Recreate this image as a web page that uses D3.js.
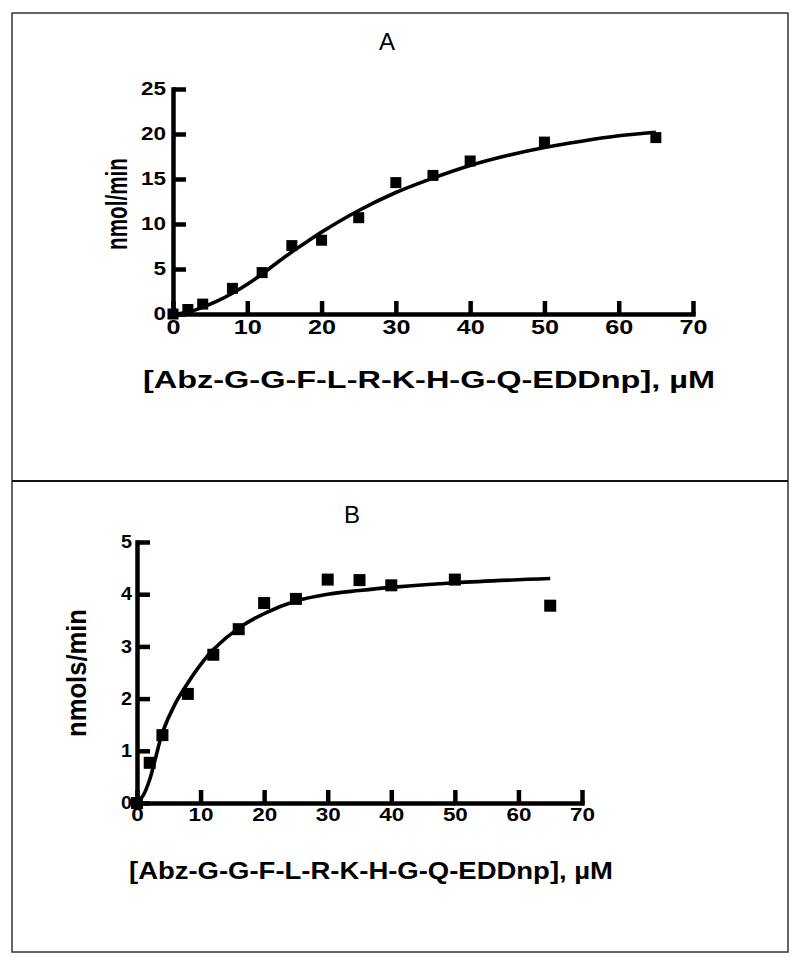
<!DOCTYPE html>
<html>
<head>
<meta charset="utf-8">
<script src="https://cdn.jsdelivr.net/npm/d3@7"></script>
<style>
    body { margin: 0; background: #fff; }
</style>
</head>
<body>
<div id="chart"></div>
<script>
// measured points, panel A
var concA = [0, 2, 4, 8, 12, 16, 20, 25, 30, 35, 40, 50, 65];
var rateA = [0, 0.5, 1.1, 2.85, 4.6, 7.6, 8.2, 10.7, 14.6, 15.4, 17.0, 19.1, 19.6];
// fitted curve, panel A
var fitConcA = [0, 2, 4, 6, 8, 10, 12, 14, 16, 18, 20, 25, 30, 35, 40, 45, 50, 55, 60, 65];
var fitRateA = [0, 0.2, 0.75, 1.45, 2.3, 3.3, 4.45, 5.7, 6.9, 8.0, 9.1, 11.5, 13.5, 15.1, 16.5, 17.6, 18.5, 19.2, 19.8, 20.2];

// measured points, panel B
var concB = [0, 2, 4, 8, 12, 16, 20, 25, 30, 35, 40, 50, 65];
var rateB = [0, 0.77, 1.3, 2.09, 2.84, 3.33, 3.83, 3.91, 4.28, 4.27, 4.17, 4.28, 3.78];
// fitted curve, panel B
var fitConcB = [0, 1, 2, 3, 4, 6, 8, 10, 12, 16, 20, 25, 30, 35, 40, 50, 65];
var fitRateB = [0, 0.15, 0.45, 0.9, 1.35, 1.9, 2.3, 2.65, 2.94, 3.35, 3.63, 3.87, 4.0, 4.07, 4.13, 4.22, 4.3];

var xTicks = [0, 10, 20, 30, 40, 50, 60, 70];
var yTicksA = [0, 5, 10, 15, 20, 25];
var yTicksB = [0, 1, 2, 3, 4, 5];

var xLabel = "[Abz-G-G-F-L-R-K-H-G-Q-EDDnp], \u00b5M";

function drawPanel(svg, p) {

    var xScale = d3.scaleLinear()
                   .domain([0, 70])
                   .range([p.left, p.right]);

    var yScale = d3.scaleLinear()
                   .domain([0, p.yMax])
                   .range([p.bottom, p.top]);

    var g = svg.append("g");

    // fitted curve
    var line = d3.line()
                 .x(function(d) { return xScale(d[0]); })
                 .y(function(d) { return yScale(d[1]); })
                 .curve(d3.curveCatmullRom);

    g.append("path")
     .datum(d3.zip(p.fitX, p.fitY))
     .attr("d", line)
     .attr("fill", "none")
     .attr("stroke", "#000")
     .attr("stroke-width", 3.6);

    // data squares
    var s = p.marker;
    g.selectAll("rect.pt")
     .data(d3.zip(p.x, p.y))
     .enter()
     .append("rect")
     .attr("class", "pt")
     .attr("x", function(d) { return xScale(d[0]) - s / 2; })
     .attr("y", function(d) { return yScale(d[1]) - s / 2; })
     .attr("width", s)
     .attr("height", s)
     .attr("fill", "#000");

    // axes, ticks point inwards
    var xAxis = d3.axisBottom(xScale)
                  .tickValues(xTicks)
                  .tickFormat(d3.format("d"))
                  .tickSizeInner(-p.tick)
                  .tickSizeOuter(0)
                  .tickPadding(p.xPad);

    var yAxis = d3.axisLeft(yScale)
                  .tickValues(p.yTicks)
                  .tickFormat(d3.format("d"))
                  .tickSizeInner(-p.tick)
                  .tickSizeOuter(0)
                  .tickPadding(p.yPad);

    var gx = g.append("g")
              .attr("transform", "translate(0," + p.bottom + ")")
              .call(xAxis);

    var gy = g.append("g")
              .attr("transform", "translate(" + p.left + ",0)")
              .call(yAxis);

    [gx, gy].forEach(function(ax) {
        ax.attr("font-family", "Liberation Sans, Arial, sans-serif")
          .attr("font-weight", "bold");
        ax.select(".domain")
          .attr("stroke-width", 4.5)
          .attr("stroke-linecap", "square");
        ax.selectAll(".tick line")
          .attr("stroke-width", 4.5);
    });

    gx.selectAll(".tick text")
      .attr("font-size", p.xFont)
      .attr("textLength", function(d) { return String(d).length * p.xDigit; })
      .attr("lengthAdjust", "spacingAndGlyphs");

    gy.selectAll(".tick text")
      .attr("font-size", p.yFont)
      .attr("textLength", function(d) { return String(d).length * p.yDigit; })
      .attr("lengthAdjust", "spacingAndGlyphs");

    // panel letter
    g.append("text")
     .attr("x", p.titleX)
     .attr("y", p.titleY)
     .attr("text-anchor", "middle")
     .attr("font-family", "Liberation Sans, Arial, sans-serif")
     .attr("font-size", 24)
     .text(p.title);

    // y title
    g.append("text")
     .attr("transform", "translate(" + p.yTitleX + "," + p.yTitleY + ") rotate(-90)")
     .attr("text-anchor", "middle")
     .attr("font-family", "Liberation Sans, Arial, sans-serif")
     .attr("font-weight", "bold")
     .attr("font-size", p.yTitleFont)
     .attr("textLength", p.yTitleLen)
     .attr("lengthAdjust", "spacingAndGlyphs")
     .text(p.yTitle);

    // x title
    g.append("text")
     .attr("x", p.xTitleX)
     .attr("y", p.xTitleY)
     .attr("text-anchor", "middle")
     .attr("font-family", "Liberation Sans, Arial, sans-serif")
     .attr("font-weight", "bold")
     .attr("font-size", 24)
     .attr("textLength", p.xTitleLen)
     .attr("lengthAdjust", "spacingAndGlyphs")
     .text(xLabel);
}

function init() {

    var w = 800;
    var h = 964;

    var svg = d3.select("#chart")
                .append("svg")
                .attr("width", w)
                .attr("height", h);

    // frame round both panels
    svg.append("rect")
       .attr("x", 12)
       .attr("y", 13)
       .attr("width", 776)
       .attr("height", 939)
       .attr("fill", "none")
       .attr("stroke", "#333")
       .attr("stroke-width", 1.5);

    svg.append("line")
       .attr("x1", 12)
       .attr("x2", 788)
       .attr("y1", 481)
       .attr("y2", 481)
       .attr("stroke", "#111")
       .attr("stroke-width", 2);

    drawPanel(svg, {
        x: concA, y: rateA, fitX: fitConcA, fitY: fitRateA,
        yMax: 25, yTicks: yTicksA,
        left: 173, right: 693, top: 89, bottom: 314,
        tick: 13, marker: 11,
        xFont: 21, xDigit: 14, xPad: 5,
        yFont: 18, yDigit: 12.5, yPad: 7,
        title: "A", titleX: 387, titleY: 50,
        yTitle: "nmol/min", yTitleX: 127, yTitleY: 204, yTitleLen: 92, yTitleFont: 29,
        xTitleX: 429, xTitleY: 388, xTitleLen: 572
    });

    drawPanel(svg, {
        x: concB, y: rateB, fitX: fitConcB, fitY: fitRateB,
        yMax: 5, yTicks: yTicksB,
        left: 137, right: 582, top: 542, bottom: 803,
        tick: 13, marker: 12,
        xFont: 19, xDigit: 12.5, xPad: 5,
        yFont: 18, yDigit: 11, yPad: 5,
        title: "B", titleX: 352, titleY: 523,
        yTitle: "nmols/min", yTitleX: 86, yTitleY: 673, yTitleLen: 128, yTitleFont: 28,
        xTitleX: 371, xTitleY: 879, xTitleLen: 484
    });
}

window.onload = init;
</script>
</body>
</html>
